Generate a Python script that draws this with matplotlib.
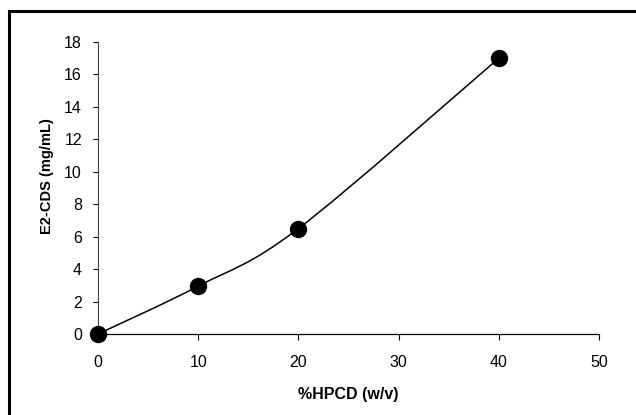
import numpy as np
import matplotlib.pyplot as plt
from matplotlib.path import Path
from matplotlib.patches import PathPatch, Rectangle

plt.rcParams['font.family'] = ['Liberation Sans', 'DejaVu Sans']

# data
hpcd = [0, 10, 20, 40]
e2cds = [0.0, 2.95, 6.5, 17.0]
xticks = [0, 10, 20, 30, 40, 50]
yticks = [0, 2, 4, 6, 8, 10, 12, 14, 16, 18]


def smooth_path(xs, ys):
    # Excel-style smoothed line: cubic Bezier segments, Catmull-Rom controls
    p = np.column_stack([xs, ys]).astype(float)
    verts = [p[0]]
    codes = [Path.MOVETO]
    n = len(p)
    for i in range(n - 1):
        p0 = p[i - 1] if i > 0 else p[i]
        p3 = p[i + 2] if i + 2 < n else p[i + 1]
        c1 = p[i] + (p[i + 1] - p0) / 6.0
        c2 = p[i + 1] - (p3 - p[i]) / 6.0
        verts += [c1, c2, p[i + 1]]
        codes += [Path.CURVE4] * 3
    return Path(verts, codes)


fig = plt.figure(figsize=(6.36, 4.15), dpi=100)
ax = fig.add_axes([98 / 636, 1 - 334 / 415, 501 / 636, 292 / 415])

ax.add_patch(PathPatch(smooth_path(hpcd, e2cds), fill=False, lw=1.1,
                       color='black', zorder=3))
ax.plot(hpcd, e2cds, ls='none', marker='o', ms=11.5, color='black',
        clip_on=False, zorder=4)

ax.set_xlim(0, 50)
ax.set_ylim(0, 18)
ax.set_xticks(xticks)
ax.set_yticks(yticks)
ax.tick_params(axis='both', direction='out', labelsize=11.5, width=0.8,
               color='black')
ax.tick_params(axis='x', length=4.2, pad=11)
ax.tick_params(axis='y', length=3.6, pad=8)

for side in ['top', 'right']:
    ax.spines[side].set_visible(False)
ax.spines['left'].set_color('#444444')
ax.spines['left'].set_linewidth(0.8)
ax.spines['bottom'].set_linewidth(0.9)

ax.set_xlabel('%HPCD (w/v)', fontsize=11.5, fontweight='bold')
ax.set_ylabel('E2-CDS (mg/mL)', fontsize=10.5, fontweight='bold')
ax.xaxis.set_label_coords(0.5, -(394 - 334) / 292, transform=ax.transAxes)
ax.xaxis.label.set_va('center')
ax.yaxis.set_label_coords(-(98 - 47.5) / 501, (334 - 176) / 292)
ax.yaxis.label.set_va('center')

# outer chart frame, cropped on right and bottom
fig.patches.append(Rectangle((9 / 636, -0.1), 1.2, 1.1 - 11.5 / 415,
                             transform=fig.transFigure, fill=False,
                             lw=2.2, edgecolor='black'))

fig.savefig('out.png', dpi=100)
